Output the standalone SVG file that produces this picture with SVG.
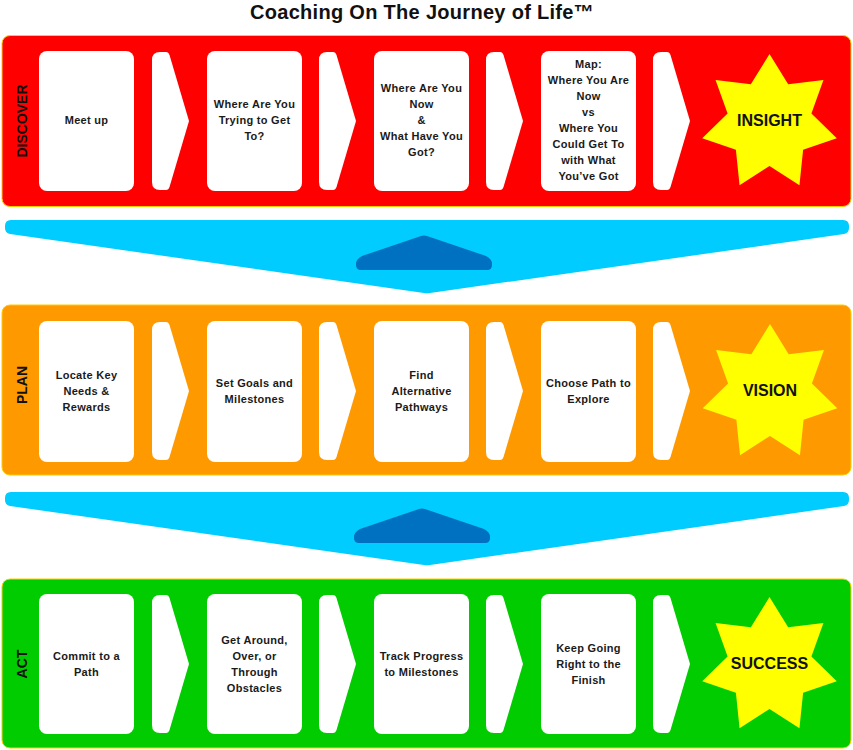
<svg xmlns="http://www.w3.org/2000/svg" xmlns:xlink="http://www.w3.org/1999/xlink" width="853" height="750" viewBox="0 0 853 750">
<style>
.band{stroke:#ffcc00;stroke-width:1}
.card{fill:#ffffff}
.chev{fill:#ffffff}
.star{fill:#ffff00}
.ct{font-family:"Liberation Sans",Arial,sans-serif;font-weight:bold;font-size:11px;letter-spacing:0.3px;fill:#1a1a1a;text-anchor:middle}
.st{font-family:"Liberation Sans",Arial,sans-serif;font-weight:bold;font-size:16px;fill:#111111;text-anchor:middle}
.lbl{font-family:"Liberation Sans",Arial,sans-serif;font-weight:bold;font-size:14px;fill:#111111;text-anchor:middle}
.title{font-family:"Liberation Sans",Arial,sans-serif;font-weight:bold;font-size:20px;letter-spacing:0.3px;fill:#111111;text-anchor:middle}
.blue{fill:#00ccff}
.dark{fill:#0070c0}
</style>
<defs>
<path id="chev" d="M8,0 L14,0 Q16.5,0 17.5,3 L37,69 L17.5,135 Q16.5,138 14,138 L8,138 Q0,138 0,130 L0,8 Q0,0 8,0 Z"/>
<polygon id="star" points="0,-69 18.66,-38.74 53.94,-43.02 41.92,-9.57 67.27,15.35 33.62,26.81 29.94,62.17 0,43 -29.94,62.17 -33.62,26.81 -67.27,15.35 -41.92,-9.57 -53.94,-43.02 -18.66,-38.74"/>
<path id="bluearrow" d="M12,0 L838,0 Q844,0 844,6 L844,8 Q844,13 839,14 L425,73 Q422,73.5 419,73 L5,14 Q0,13 0,8 L0,6 Q0,0 6,0 Z"/>
<path id="darkarrow" d="M6,21 L65,1 Q68,0 71,1 L130,21 Q136,24 136,29 L136,30 Q136,35 131,35 L5,35 Q0,35 0,30 L0,29 Q0,24 6,21 Z"/>
</defs>
<rect width="853" height="750" fill="#ffffff"/>
<text class="title" x="422" y="19">Coaching On The Journey of Life™</text>

<g id="band-discover">
<rect class="band" x="2" y="35.5" width="849" height="171" rx="8" fill="#ff0000"/>
<text class="lbl" transform="translate(27,121) rotate(-90)">DISCOVER</text>
</g>
<g id="band-plan">
<rect class="band" x="2" y="305" width="849" height="170" rx="8" fill="#ff9900"/>
<text class="lbl" transform="translate(27,385) rotate(-90)">PLAN</text>
</g>
<g id="band-act">
<rect class="band" x="2" y="579" width="849" height="169" rx="8" fill="#00cc00"/>
<text class="lbl" transform="translate(27,664) rotate(-90)">ACT</text>
</g>

<g id="connectors">
<use xlink:href="#chev" href="#chev" class="chev" x="152" y="52"/>
<use xlink:href="#chev" href="#chev" class="chev" x="319" y="52"/>
<use xlink:href="#chev" href="#chev" class="chev" x="486" y="52"/>
<use xlink:href="#chev" href="#chev" class="chev" x="653" y="52"/>
<use xlink:href="#chev" href="#chev" class="chev" x="152" y="322"/>
<use xlink:href="#chev" href="#chev" class="chev" x="319" y="322"/>
<use xlink:href="#chev" href="#chev" class="chev" x="486" y="322"/>
<use xlink:href="#chev" href="#chev" class="chev" x="653" y="322"/>
<use xlink:href="#chev" href="#chev" class="chev" x="152" y="595"/>
<use xlink:href="#chev" href="#chev" class="chev" x="319" y="595"/>
<use xlink:href="#chev" href="#chev" class="chev" x="486" y="595"/>
<use xlink:href="#chev" href="#chev" class="chev" x="653" y="595"/>
<use xlink:href="#bluearrow" href="#bluearrow" class="blue" x="5" y="220"/>
<use xlink:href="#darkarrow" href="#darkarrow" class="dark" x="356" y="235"/>
<use xlink:href="#bluearrow" href="#bluearrow" class="blue" x="5" y="492"/>
<use xlink:href="#darkarrow" href="#darkarrow" class="dark" x="354" y="508"/>
</g>

<g id="card-meet-up">
<rect class="card" x="39" y="51" width="95" height="140" rx="8"/>
<text class="ct" x="86.5" y="124">Meet up</text>
</g>
<g id="card-trying">
<rect class="card" x="207" y="51" width="95" height="140" rx="8"/>
<text class="ct" x="254.5" y="108">Where Are You</text>
<text class="ct" x="254.5" y="124">Trying to Get</text>
<text class="ct" x="254.5" y="140">To?</text>
</g>
<g id="card-now">
<rect class="card" x="374" y="51" width="95" height="140" rx="8"/>
<text class="ct" x="421.5" y="92">Where Are You</text>
<text class="ct" x="421.5" y="108">Now</text>
<text class="ct" x="421.5" y="124">&amp;</text>
<text class="ct" x="421.5" y="140">What Have You</text>
<text class="ct" x="421.5" y="156">Got?</text>
</g>
<g id="card-map">
<rect class="card" x="541" y="51" width="95" height="140" rx="8"/>
<text class="ct" x="588.5" y="68">Map:</text>
<text class="ct" x="588.5" y="84">Where You Are</text>
<text class="ct" x="588.5" y="100">Now</text>
<text class="ct" x="588.5" y="116">vs</text>
<text class="ct" x="588.5" y="132">Where You</text>
<text class="ct" x="588.5" y="148">Could Get To</text>
<text class="ct" x="588.5" y="164">with What</text>
<text class="ct" x="588.5" y="180">You’ve Got</text>
</g>
<g id="star-insight">
<use xlink:href="#star" href="#star" class="star" transform="translate(769.5,123)"/>
<text class="st" x="769.5" y="125.5">INSIGHT</text>
</g>

<g id="card-locate">
<rect class="card" x="39" y="321" width="95" height="141" rx="8"/>
<text class="ct" x="86.5" y="378.5">Locate Key</text>
<text class="ct" x="86.5" y="394.5">Needs &amp;</text>
<text class="ct" x="86.5" y="410.5">Rewards</text>
</g>
<g id="card-goals">
<rect class="card" x="207" y="321" width="95" height="141" rx="8"/>
<text class="ct" x="254.5" y="386.5">Set Goals and</text>
<text class="ct" x="254.5" y="402.5">Milestones</text>
</g>
<g id="card-pathways">
<rect class="card" x="374" y="321" width="95" height="141" rx="8"/>
<text class="ct" x="421.5" y="378.5">Find</text>
<text class="ct" x="421.5" y="394.5">Alternative</text>
<text class="ct" x="421.5" y="410.5">Pathways</text>
</g>
<g id="card-choose">
<rect class="card" x="541" y="321" width="95" height="141" rx="8"/>
<text class="ct" x="588.5" y="386.5">Choose Path to</text>
<text class="ct" x="588.5" y="402.5">Explore</text>
</g>
<g id="star-vision">
<use xlink:href="#star" href="#star" class="star" transform="translate(770,393)"/>
<text class="st" x="770" y="395.5">VISION</text>
</g>

<g id="card-commit">
<rect class="card" x="39" y="594" width="95" height="140" rx="8"/>
<text class="ct" x="86.5" y="659.5">Commit to a</text>
<text class="ct" x="86.5" y="675.5">Path</text>
</g>
<g id="card-obstacles">
<rect class="card" x="207" y="594" width="95" height="140" rx="8"/>
<text class="ct" x="254.5" y="643.5">Get Around,</text>
<text class="ct" x="254.5" y="659.5">Over, or</text>
<text class="ct" x="254.5" y="675.5">Through</text>
<text class="ct" x="254.5" y="691.5">Obstacles</text>
</g>
<g id="card-track">
<rect class="card" x="374" y="594" width="95" height="140" rx="8"/>
<text class="ct" x="421.5" y="659.5">Track Progress</text>
<text class="ct" x="421.5" y="675.5">to Milestones</text>
</g>
<g id="card-keep-going">
<rect class="card" x="541" y="594" width="95" height="140" rx="8"/>
<text class="ct" x="588.5" y="651.5">Keep Going</text>
<text class="ct" x="588.5" y="667.5">Right to the</text>
<text class="ct" x="588.5" y="683.5">Finish</text>
</g>
<g id="star-success">
<use xlink:href="#star" href="#star" class="star" transform="translate(769.5,666)"/>
<text class="st" x="769.5" y="668.5">SUCCESS</text>
</g>
</svg>
